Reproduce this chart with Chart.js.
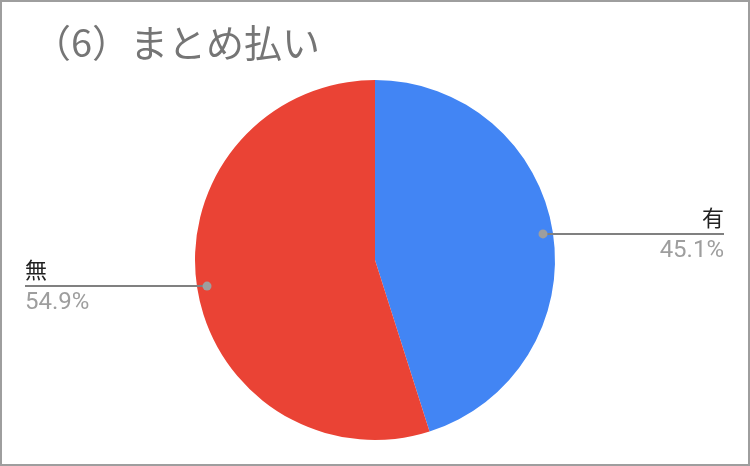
<!DOCTYPE html>
<html>
<head>
<meta charset="utf-8">
<script src="https://cdn.jsdelivr.net/npm/chart.js@4"></script>
<style>
  html, body { margin: 0; padding: 0; background: #fff; }
  #wrap { width: 750px; height: 466px; position: relative; }
</style>
</head>
<body>
<div id="wrap"><canvas id="pieChart"></canvas></div>
<script>
const titleText = '（6）まとめ払い';
const categories = ['有', '無'];
const values = [45.1, 54.9];
const sliceColors = ['#4285f4', '#ea4335'];

//draws the grey frame plus the leader lines and labels
const calloutPlugin = {
    id: 'callouts',
    afterDraw(chart) {
        const ctx = chart.ctx;
        ctx.save();
        ctx.strokeStyle = '#9e9e9e';
        ctx.lineWidth = 2;
        ctx.strokeRect(1, 1, chart.width - 2, chart.height - 2);

        const arcs = chart.getDatasetMeta(0).data;
        arcs.forEach((arc, i) => {
            const mid = (arc.startAngle + arc.endAngle) / 2;
            const r = arc.outerRadius - 10;
            const px = arc.x + Math.cos(mid) * r;
            const py = arc.y + Math.sin(mid) * r;
            const right = Math.cos(mid) >= 0;
            const endX = right ? 724 : 25;

            ctx.strokeStyle = '#808080';
            ctx.lineWidth = 2;
            ctx.beginPath();
            ctx.moveTo(px, py);
            ctx.lineTo(endX, py);
            ctx.stroke();

            ctx.fillStyle = '#9e9e9e';
            ctx.beginPath();
            ctx.arc(px, py, 4.5, 0, Math.PI * 2);
            ctx.fill();

            ctx.textAlign = right ? 'right' : 'left';
            ctx.textBaseline = 'alphabetic';
            ctx.font = '22px "Noto Sans CJK JP"';
            ctx.fillStyle = '#212121';
            ctx.fillText(categories[i], endX, py - 8);
            ctx.font = '24px Roboto';
            ctx.fillStyle = '#9e9e9e';
            ctx.fillText(values[i].toFixed(1) + '%', endX, py + 23);
        });
        ctx.restore();
    }
};

const config = {
    type: 'pie',
    data: {
        labels: categories,
        datasets: [{
            data: values,
            backgroundColor: sliceColors,
            borderWidth: 0
        }]
    },
    options: {
        responsive: true,
        maintainAspectRatio: false,
        animation: false,
        layout: {
            padding: { top: 0, bottom: 26, left: 33, right: 33 }
        },
        plugins: {
            legend: { display: false },
            tooltip: { enabled: false },
            title: {
                display: true,
                text: titleText,
                align: 'start',
                color: '#757575',
                font: { family: '"Noto Sans CJK JP"', size: 38, weight: 'normal', lineHeight: 1.2 },
                padding: { top: 20, bottom: 14.4 }
            }
        }
    },
    plugins: [calloutPlugin]
};

const pieChart = new Chart(document.getElementById('pieChart'), config);
</script>
</body>
</html>
